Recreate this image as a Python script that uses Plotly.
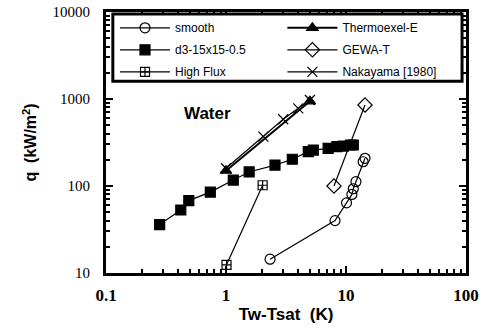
import plotly.graph_objects as go

# ---- data ----
smooth_x = [2.33, 8.1, 10.1, 11.2, 11.5, 12.1, 13.9, 14.4]
smooth_y = [14.4, 40, 64, 80, 93, 112, 190, 208]

thermo_x = [1.0, 5.0]
thermo_y = [150, 940]

d3_x = [0.28, 0.42, 0.49, 0.74, 1.15, 1.56, 2.56, 3.57, 4.85, 5.34, 7.1, 8.4, 9.5, 10.9, 11.5]
d3_y = [36, 53, 68, 85, 117, 145, 174, 203, 248, 259, 271, 283, 288, 296, 296]

gewa_x = [7.94, 14.4]
gewa_y = [100, 853]

hf_x = [1.01, 2.02]
hf_y = [12.4, 102]

naka_x = [1.0, 2.05, 3.0, 4.0, 5.0]
naka_y = [160, 369, 585, 781, 975]

fig = go.Figure()

def add(name, x, y, symbol, size, legend, lw=1.2):
    fig.add_trace(go.Scatter(
        x=x, y=y, name=name, mode="lines+markers", legend=legend, legendgroup=name,
        line=dict(color="black", width=lw),
        marker=dict(symbol=symbol, size=size, color="black",
                    line=dict(color="black", width=1.2)),
    ))

add("smooth", smooth_x, smooth_y, "circle-open", 10, "legend")
add("d3-15x15-0.5", d3_x, d3_y, "square", 10, "legend")
add("High Flux", hf_x, hf_y, "square-cross-open", 9, "legend")
add("Thermoexel-E", thermo_x, thermo_y, "triangle-up", 10, "legend2", lw=2.0)
add("GEWA-T", gewa_x, gewa_y, "diamond-open", 11, "legend2")
add("Nakayama [1980]", naka_x, naka_y, "x-thin-open", 10, "legend2")

axis_common = dict(
    type="log", showline=True, linewidth=3, linecolor="black", mirror="allticks",
    ticks="inside", ticklen=7, tickwidth=2, tickcolor="black",
    showgrid=False, zeroline=False, automargin=False,
    tickmode="linear", tick0=0, dtick=1, tickformat="~g",
    minor=dict(dtick="D1", ticks="inside", ticklen=4,
               tickwidth=1.5, tickcolor="black", showgrid=False),
)

fig.update_xaxes(
    **axis_common,
    range=[-1, 2],
    tickfont=dict(family="Liberation Serif", size=17, color="black", weight="bold"),
    ticklabelstandoff=5,
    title=dict(text="Tw-Tsat  (K)", standoff=4,
               font=dict(family="Liberation Sans", size=17, color="black", weight="bold")),
)
fig.update_yaxes(
    **axis_common,
    range=[1, 4],
    tickfont=dict(family="Liberation Serif", size=15, color="black"),
    ticklabelstandoff=10,
    title=dict(text="q  (kW/m<sup>2</sup>)", standoff=12,
               font=dict(family="Liberation Sans", size=16, color="black", weight="bold")),
)

fig.add_annotation(
    x=0.21, y=0.61, xref="paper", yref="paper", text="Water", showarrow=False,
    font=dict(family="Liberation Sans", size=17, color="black", weight="bold"),
)

# legend frame
fig.add_shape(type="rect", xref="paper", yref="paper",
              x0=0.019, x1=0.989, y0=0.735, y1=0.992,
              line=dict(color="black", width=3), fillcolor="white", layer="above")

leg_common = dict(
    orientation="v", yanchor="top", xanchor="left",
    bgcolor="rgba(0,0,0,0)", borderwidth=0,
    font=dict(family="Liberation Sans", size=12, color="black"),
    itemwidth=50, tracegroupgap=3,
)

fig.update_layout(
    width=488, height=329,
    margin=dict(l=106, r=22, t=12, b=56, autoexpand=False),
    paper_bgcolor="white", plot_bgcolor="white",
    showlegend=True,
    legend=dict(x=0.025, y=0.995, **leg_common),
    legend2=dict(x=0.49, y=0.995, **leg_common),
)

fig.write_html("out.html")
